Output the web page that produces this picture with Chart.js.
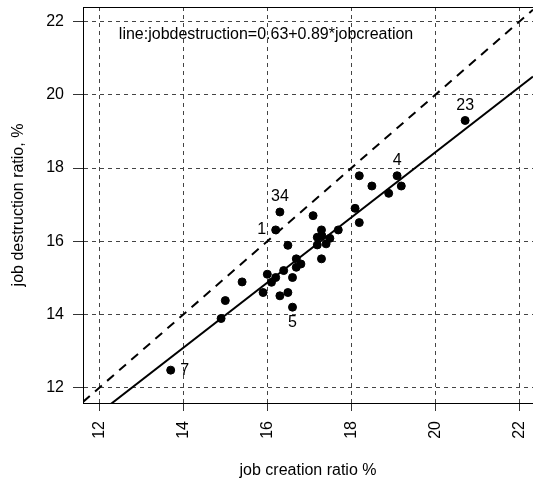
<!DOCTYPE html>
<html>
<head>
<meta charset="utf-8">
<script src="https://cdn.jsdelivr.net/npm/chart.js@4.4.1/dist/chart.umd.min.js"></script>
<style>
  body { margin: 0; background: #fff; }
  #wrap { width: 533px; height: 479px; }
</style>
</head>
<body>
<div id="wrap"><canvas id="myChart"></canvas></div>
<script>
// datos
var jobCreation = [18.19, 19.09, 18.49, 18.89, 19.19, 18.09, 18.19, 16.30, 16.20, 17.09,
  17.29, 17.69, 17.19, 17.30, 17.49, 17.40, 17.19, 16.49, 16.69, 16.80,
  16.69, 17.29, 16.39, 16.00, 16.20, 16.10, 16.60, 15.40, 15.90, 16.30,
  16.49, 16.60, 15.00, 14.90, 13.70, 20.71];
var jobDestruction = [17.79, 17.79, 17.51, 17.31, 17.51, 16.90, 16.51, 16.80, 16.31, 16.70,
  16.31, 16.31, 16.11, 16.15, 16.08, 15.93, 15.90, 15.89, 15.52, 15.38,
  15.29, 15.52, 15.20, 15.10, 15.01, 14.88, 15.01, 14.89, 14.60, 14.51,
  14.60, 14.20, 14.38, 13.89, 12.48, 19.30];
var pointLabels = ["", "4", "", "", "", "", "", "34", "1", "",
  "", "", "", "", "", "", "", "", "", "",
  "", "", "", "", "", "", "", "", "", "",
  "", "5", "", "", "7", "23"];
var labelPos = ["", "above", "", "", "", "", "", "above", "left", "",
  "", "", "", "", "", "", "", "", "", "",
  "", "", "", "", "", "", "", "", "", "",
  "", "below", "", "", "right", "above"];
var tickValues = [12, 14, 16, 18, 20, 22];
var intercept = 0.63;
var slope = 0.89;
var noteText = "line:jobdestruction=0.63+0.89*jobcreation";
var noteX = 15.97;
var noteY = 21.64;

var xMin = 11.612, xMax = 22.326;
var yMin = 11.582, yMax = 22.40;

var font = "'Liberation Sans', Arial, sans-serif";

var puntos = jobCreation.map(function (v, i) {
  return { x: v, y: jobDestruction[i] };
});
var ajuste = [xMin, xMax].map(function (v) {
  return { x: v, y: intercept + slope * v };
});
var diagonal = [xMin, xMax].map(function (v) {
  return { x: v, y: v };
});

var extras = {
  id: "extras",
  afterDatasetsDraw: function (chart) {
    var ctx = chart.ctx;
    var area = chart.chartArea;
    var sx = chart.scales.x, sy = chart.scales.y;
    ctx.save();
    // borde superior
    ctx.strokeStyle = "#000";
    ctx.lineWidth = 1;
    ctx.beginPath();
    ctx.moveTo(area.left, area.top + 0.5);
    ctx.lineTo(area.right, area.top + 0.5);
    ctx.stroke();

    ctx.fillStyle = "#000";
    ctx.font = "16px " + font;
    ctx.textAlign = "center";
    ctx.textBaseline = "middle";
    ctx.fillText(noteText, sx.getPixelForValue(noteX), sy.getPixelForValue(noteY));

    var meta = chart.getDatasetMeta(0);
    meta.data.forEach(function (pt, i) {
      if (!pointLabels[i]) return;
      var x = pt.x, y = pt.y;
      switch (labelPos[i]) {
        case "above":
          y -= 15;
          break;
        case "below":
          y += 15;
          break;
        case "left":
          x -= 14;
          break;
        case "right":
          x += 14;
          break;
        default:
          break;
      }
      ctx.fillText(pointLabels[i], x, y);
    });
    ctx.restore();
  },
};

function fixTicks(scale) {
  scale.ticks = tickValues.map(function (v) {
    return { value: v };
  });
}

new Chart(document.getElementById("myChart"), {
  type: "scatter",
  data: {
    datasets: [
      {
        label: "puntos",
        data: puntos,
        backgroundColor: "#000",
        borderColor: "#000",
        pointRadius: 4,
        pointHoverRadius: 4,
      },
      {
        label: "ajuste",
        type: "line",
        data: ajuste,
        borderColor: "#000",
        borderWidth: 2,
        pointRadius: 0,
        fill: false,
      },
      {
        label: "diagonal",
        type: "line",
        data: diagonal,
        borderColor: "#000",
        borderWidth: 2,
        borderDash: [9, 7],
        pointRadius: 0,
        fill: false,
      },
    ],
  },
  options: {
    responsive: true,
    maintainAspectRatio: false,
    animation: false,
    layout: { autoPadding: false, padding: { top: 7, right: 0, left: 0, bottom: 0 } },
    plugins: {
      legend: { display: false },
      tooltip: { enabled: false },
    },
    scales: {
      x: {
        type: "linear",
        min: xMin,
        max: xMax,
        afterBuildTicks: fixTicks,
        afterFit: function (scale) {
          scale.height = 76;
          scale.paddingLeft = 0;
          scale.paddingRight = 0;
        },
        grid: {
          color: "#444",
          tickColor: "#333",
          tickLength: 8,
        },
        border: { display: true, color: "#000", width: 1, dash: [4, 4] },
        ticks: {
          color: "#000",
          font: { size: 16, family: font },
          minRotation: 90,
          maxRotation: 90,
          padding: 10,
          callback: function (v) {
            return v;
          },
        },
        title: {
          display: true,
          text: "job creation ratio %",
          color: "#000",
          font: { size: 16, family: font, lineHeight: 1 },
          padding: { top: 0, bottom: 0 },
        },
      },
      y: {
        type: "linear",
        min: yMin,
        max: yMax,
        afterBuildTicks: fixTicks,
        afterFit: function (scale) {
          scale.width = 83;
          scale.paddingTop = 0;
          scale.paddingBottom = 0;
        },
        grid: {
          color: "#444",
          tickColor: "#333",
          tickLength: 10,
        },
        border: { display: true, color: "#000", width: 1, dash: [4, 4] },
        ticks: {
          color: "#000",
          font: { size: 16, family: font },
          padding: 9,
          callback: function (v) {
            return v;
          },
        },
        title: {
          display: true,
          text: "job destruction ratio, %",
          color: "#000",
          font: { size: 16, family: font, lineHeight: 1 },
          padding: { top: 11, bottom: 0 },
        },
      },
    },
  },
  plugins: [extras],
});
</script>
</body>
</html>
